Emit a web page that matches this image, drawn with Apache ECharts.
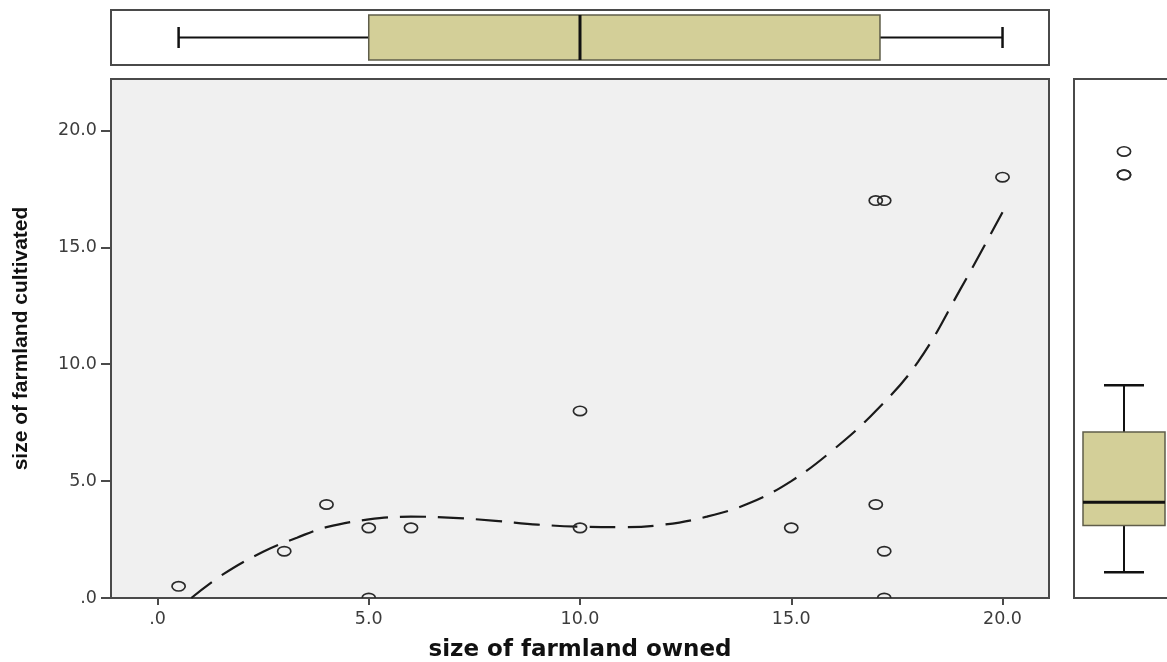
<!DOCTYPE html>
<html>
<head>
<meta charset="utf-8">
<title>farmland owned vs cultivated</title>
<script src="https://cdn.jsdelivr.net/npm/echarts@6/dist/echarts.min.js"></script>
<style>
html, body { margin: 0; padding: 0; background: #fff; }
#chart { width: 1167px; height: 662px; }
</style>
</head>
<body>
<div id="chart"></div>
<script>
// one entry per respondent
var owned = [0.5, 3, 4, 5, 5, 6, 10, 10, 15, 17, 17.2, 17, 17.2, 17.2, 20];
var cultivated = [0.5, 2, 4, 3, 0, 3, 8, 3, 3, 17, 17, 4, 2, 0, 18];

// dashed fit line
var fitX = [0.8, 1.5, 2.5, 3.3, 4, 5, 6, 7, 8, 9, 10, 11, 12, 13, 14, 15, 16, 17, 18, 19, 20];
var fitY = [0, 0.95, 1.98, 2.58, 3.03, 3.36, 3.48, 3.43, 3.3, 3.14, 3.05, 3.03, 3.14, 3.48, 4.05, 5.0, 6.35, 8.0, 10.1, 13.2, 16.5];

// box stats: lower whisker, q1, median, q3, upper whisker
var ownedBox = [0.5, 5, 10, 17.1, 20];
var cultivatedBox = [0, 2, 3, 6, 8];
var cultivatedOutliers = [17, 17, 18];

var tickValues = [0, 5, 10, 15, 20];

var BOX_FILL = '#d3cf98';
var INK = '#111';

function tickLabel(v) {
    return v === 0 ? '.0' : v.toFixed(1);
}

function clipOf(cs) {
    return { type: 'rect', shape: { x: cs.x, y: cs.y, width: cs.width, height: cs.height } };
}

function renderPoint(params, api) {
    var p = api.coord([api.value(0), api.value(1)]);
    return {
        type: 'ellipse',
        shape: { cx: p[0], cy: p[1], rx: 6.6, ry: 4.7 },
        style: { fill: 'none', stroke: '#2a2a2a', lineWidth: 1.7 },
        clipPath: clipOf(params.coordSys)
    };
}

function line(x1, y1, x2, y2, w) {
    return { type: 'line', shape: { x1: x1, y1: y1, x2: x2, y2: y2 }, style: { stroke: INK, lineWidth: w } };
}

// horizontal box on top
function renderOwnedBox(params, api) {
    var cy = api.coord([0, 0.5])[1];
    var x = [];
    for (var i = 0; i < 5; i++) x.push(api.coord([api.value(i), 0.5])[0]);
    var half = 22.5, cap = 10.5;
    return {
        type: 'group',
        children: [
            line(x[0], cy, x[1], cy, 2),
            line(x[3], cy, x[4], cy, 2),
            line(x[0], cy - cap, x[0], cy + cap, 2.5),
            line(x[4], cy - cap, x[4], cy + cap, 2.5),
            { type: 'rect', shape: { x: x[1], y: cy - half, width: x[3] - x[1], height: 2 * half },
              style: { fill: BOX_FILL, stroke: '#5f5d4a', lineWidth: 1.5 } },
            line(x[2], cy - half, x[2], cy + half, 3)
        ]
    };
}

// vertical box on the right
function renderCultivatedBox(params, api) {
    var cx = api.coord([0.5, 0])[0];
    var y = [];
    for (var i = 0; i < 5; i++) y.push(api.coord([0.5, api.value(i)])[1]);
    var half = 41, cap = 20;
    return {
        type: 'group',
        children: [
            line(cx, y[0], cx, y[1], 2),
            line(cx, y[3], cx, y[4], 2),
            line(cx - cap, y[0], cx + cap, y[0], 2.5),
            line(cx - cap, y[4], cx + cap, y[4], 2.5),
            { type: 'rect', shape: { x: cx - half, y: y[3], width: 2 * half, height: y[1] - y[3] },
              style: { fill: BOX_FILL, stroke: '#5f5d4a', lineWidth: 1.5 } },
            line(cx - half, y[2], cx + half, y[2], 3)
        ]
    };
}

var chart = echarts.init(document.getElementById('chart'), null, { renderer: 'canvas' });

var axisText = { color: '#3c3c3c', fontFamily: 'DejaVu Sans', fontSize: 17.5 };
var frame = { show: true, borderColor: '#4a4a4a', borderWidth: 2, outerBoundsMode: 'none', containLabel: false };

var option = {
    backgroundColor: '#ffffff',
    animation: false,
    grid: [
        Object.assign({ left: 111, top: 79, width: 938, height: 519, backgroundColor: '#f0f0f0' }, frame),
        Object.assign({ left: 111, top: 10, width: 938, height: 55, backgroundColor: '#ffffff' }, frame),
        Object.assign({ left: 1074, top: 79, width: 100, height: 519, backgroundColor: '#ffffff' }, frame)
    ],
    xAxis: [{
        gridIndex: 0,
        type: 'value',
        min: -1.1,
        max: 21.1,
        name: 'size of farmland owned',
        nameLocation: 'middle',
        nameGap: 41,
        nameTextStyle: { fontFamily: 'DejaVu Sans', fontWeight: 'bold', fontSize: 23, color: '#111' },
        axisLine: { show: true, onZero: false, lineStyle: { color: '#4a4a4a', width: 2 } },
        axisTick: { show: true, length: 7, customValues: tickValues, lineStyle: { color: '#4a4a4a', width: 2 } },
        axisLabel: Object.assign({ customValues: tickValues, margin: 12, formatter: tickLabel }, axisText),
        splitLine: { show: false }
    }, {
        gridIndex: 1, type: 'value', min: -1.1, max: 21.1, show: false
    }, {
        gridIndex: 2, type: 'value', min: 0, max: 1, show: false
    }],
    yAxis: [{
        gridIndex: 0,
        type: 'value',
        min: 0,
        max: 22.2,
        name: 'size of farmland cultivated',
        nameLocation: 'middle',
        nameGap: 79,
        nameTextStyle: { fontFamily: "'Liberation Sans Narrow', 'Liberation Sans'", fontWeight: 'bold', fontSize: 21, color: '#111' },
        axisLine: { show: true, onZero: false, lineStyle: { color: '#4a4a4a', width: 2 } },
        axisTick: { show: true, length: 10, customValues: tickValues, lineStyle: { color: '#4a4a4a', width: 2 } },
        axisLabel: Object.assign({ customValues: tickValues, margin: 14, formatter: tickLabel }, axisText),
        splitLine: { show: false }
    }, {
        gridIndex: 1, type: 'value', min: 0, max: 1, show: false
    }, {
        gridIndex: 2, type: 'value', min: -1.1, max: 21.1, show: false
    }],
    series: [{
        name: 'fit',
        type: 'line',
        xAxisIndex: 0,
        yAxisIndex: 0,
        smooth: 0.4,
        showSymbol: false,
        silent: true,
        lineStyle: { color: '#1a1a1a', width: 2.2, type: [26, 12] },
        data: fitX.map(function (x, i) { return [x, fitY[i]]; }),
        z: 3
    }, {
        name: 'respondents',
        type: 'custom',
        xAxisIndex: 0,
        yAxisIndex: 0,
        renderItem: renderPoint,
        data: owned.map(function (x, i) { return [x, cultivated[i]]; }),
        z: 4
    }, {
        name: 'owned box',
        type: 'custom',
        xAxisIndex: 1,
        yAxisIndex: 1,
        renderItem: renderOwnedBox,
        data: [ownedBox]
    }, {
        name: 'cultivated box',
        type: 'custom',
        xAxisIndex: 2,
        yAxisIndex: 2,
        renderItem: renderCultivatedBox,
        data: [cultivatedBox]
    }, {
        name: 'cultivated outliers',
        type: 'custom',
        xAxisIndex: 2,
        yAxisIndex: 2,
        renderItem: renderPoint,
        data: cultivatedOutliers.map(function (v) { return [0.5, v]; })
    }]
};

chart.setOption(option);
</script>
</body>
</html>
